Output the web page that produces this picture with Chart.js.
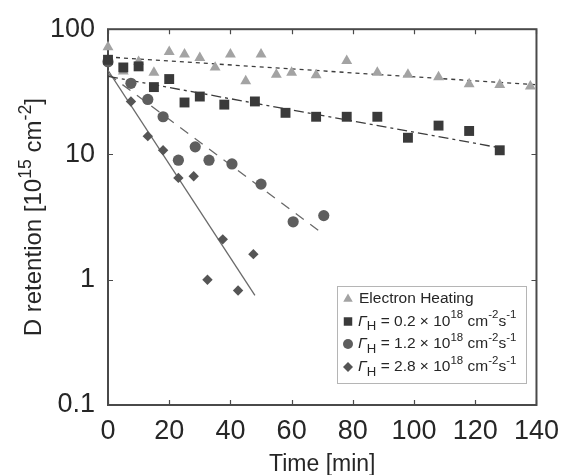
<!DOCTYPE html>
<html>
<head>
<meta charset="utf-8">
<script src="https://cdn.jsdelivr.net/npm/chart.js"></script>
<style>
  html, body { margin: 0; padding: 0; background: #fff; }
</style>
</head>
<body>
<canvas id="chart" width="569" height="475"></canvas>
<script>
// time [min] and D retention [1e15 cm^-2]
let heatTime = [0, 5, 10, 15, 20, 25, 30, 35, 40, 45, 50, 55, 60, 68, 78, 88, 98, 108, 118, 128, 138];
let heatVals = [72, 46, 55, 45, 66, 63, 59, 49.5, 63, 38.5, 63, 43.5, 45, 43, 56, 45, 43.5, 41.5, 36.5, 36, 35];

let lowTime = [0, 5, 10, 15, 20, 25, 30, 38, 48, 58, 68, 78, 88, 98, 108, 118, 128];
let lowVals = [57, 49.5, 50.5, 34.5, 40, 26, 29, 25, 26.5, 21.5, 20, 20, 20, 13.6, 17, 15.4, 10.8];

let midTime = [0, 7.5, 13, 18, 23, 28.5, 33, 40.5, 50, 60.5, 70.5];
let midVals = [55, 37, 27.5, 20, 9, 11.5, 9, 8.4, 5.8, 2.9, 3.25];

let highTime = [0, 7.5, 13, 18, 23, 28, 32.5, 37.5, 42.5, 47.5];
let highVals = [54, 26.5, 14, 10.8, 6.5, 6.7, 1.0, 2.1, 0.82, 1.6];

// fitted lines, start and end
let heatFitTime = [0, 140];
let heatFitVals = [60, 36];
let lowFitTime = [0, 128];
let lowFitVals = [42, 11.3];
let midFitTime = [0, 70];
let midFitVals = [44, 2.35];
let highFitTime = [0, 48];
let highFitVals = [47, 0.75];

let xTicks = [0, 20, 40, 60, 80, 100, 120, 140];
let yTicks = [0.1, 1, 10, 100];
let yTickLabels = ["0.1", "1", "10", "100"];
let fluxLabels = ["0.2", "1.2", "2.8"];

const FONT = '"Liberation Sans", Arial, sans-serif';

function pts(xs, ys) {
  return xs.map((x, i) => ({ x: x, y: ys[i] }));
}

function richText(ctx, x, y, parts, size) {
  for (const p of parts) {
    let fs = size, dy = 0;
    if (p.sup) { fs = size * 0.74; dy = -size * 0.4; }
    if (p.sub) { fs = size * 0.85; dy = size * 0.32; }
    ctx.font = (p.it ? "italic " : "") + fs + "px " + FONT;
    ctx.fillText(p.t, x, y + dy);
    x += ctx.measureText(p.t).width;
  }
  return x;
}

function richWidth(ctx, parts, size) {
  let w = 0;
  for (const p of parts) {
    let fs = p.sup ? size * 0.74 : p.sub ? size * 0.85 : size;
    ctx.font = (p.it ? "italic " : "") + fs + "px " + FONT;
    w += ctx.measureText(p.t).width;
  }
  return w;
}

function fluxParts(f) {
  return [
    { t: "\u0393", it: true },
    { t: "H", sub: true },
    { t: " = " + f + " \u00d7 10" },
    { t: "18", sup: true },
    { t: " cm" },
    { t: "-2", sup: true },
    { t: "s" },
    { t: "-1", sup: true },
  ];
}

// box, inward ticks and axis titles, under the markers
const framePlugin = {
  id: "frame",
  beforeDatasetsDraw(chart) {
    const ctx = chart.ctx;
    const a = chart.chartArea;
    const xs = chart.scales.x, ys = chart.scales.y;
    ctx.save();
    ctx.strokeStyle = "#4a4a4a";
    ctx.lineWidth = 2;
    ctx.strokeRect(a.left, a.top, a.right - a.left, a.bottom - a.top);
    ctx.lineWidth = 1.2;
    ctx.beginPath();
    xTicks.forEach((t) => {
      let px = Math.round(xs.getPixelForValue(t)) + 0.5;
      ctx.moveTo(px, a.bottom); ctx.lineTo(px, a.bottom - 5);
      ctx.moveTo(px, a.top); ctx.lineTo(px, a.top + 5);
    });
    yTicks.forEach((t) => {
      let py = Math.round(ys.getPixelForValue(t)) + 0.5;
      ctx.moveTo(a.left, py); ctx.lineTo(a.left + 5, py);
      ctx.moveTo(a.right, py); ctx.lineTo(a.right - 5, py);
    });
    ctx.stroke();

    ctx.fillStyle = "#262626";
    ctx.textBaseline = "alphabetic";
    // x title
    ctx.font = "23px " + FONT;
    ctx.textAlign = "center";
    ctx.fillText("Time [min]", (a.left + a.right) / 2, 471);
    // y title
    ctx.textAlign = "left";
    let yParts = [{ t: "D retention [10" }, { t: "15", sup: true }, { t: " cm" }, { t: "-2", sup: true }, { t: "]" }];
    let w = richWidth(ctx, yParts, 24);
    ctx.translate(41, (a.top + a.bottom) / 2);
    ctx.rotate(-Math.PI / 2);
    richText(ctx, -w / 2, 0, yParts, 24);
    ctx.restore();
  },
  afterDatasetsDraw(chart) {
    const ctx = chart.ctx;
    const helpers = Chart.helpers;
    ctx.save();
    ctx.fillStyle = "#fff";
    ctx.fillRect(337, 286, 189, 97);
    ctx.strokeStyle = "#b5b5b5";
    ctx.lineWidth = 1;
    ctx.strokeRect(337.5, 286.5, 189, 97);

    let rows = [299, 321.5, 344, 367];
    let marks = [
      { style: "triangle", r: 5.5, color: "#a3a3a3" },
      { style: "rect", r: 6, color: "#3a3a3a" },
      { style: "circle", r: 5, color: "#5e5e5e" },
      { style: "rectRot", r: 5, color: "#555555" },
    ];
    marks.forEach((m, i) => {
      ctx.fillStyle = m.color;
      helpers.drawPoint(ctx, { pointStyle: m.style, radius: m.r, rotation: 0, borderWidth: 0 }, 348, rows[i]);
    });

    ctx.fillStyle = "#262626";
    ctx.textBaseline = "middle";
    ctx.textAlign = "left";
    ctx.font = "15.5px " + FONT;
    ctx.fillText("Electron Heating", 359, rows[0]);
    fluxLabels.forEach((f, i) => {
      richText(ctx, 358, rows[i + 1], fluxParts(f), 15.5);
    });
    ctx.restore();
  },
};

function lineSet(xs, ys, color, dash, order) {
  return {
    data: pts(xs, ys),
    showLine: true,
    borderColor: color,
    borderWidth: 1.3,
    borderDash: dash,
    pointRadius: 0,
    fill: false,
    order: order,
  };
}

function pointSet(xs, ys, style, r, color, order) {
  return {
    data: pts(xs, ys),
    showLine: false,
    pointStyle: style,
    pointRadius: r,
    backgroundColor: color,
    borderColor: color,
    borderWidth: 0,
    clip: false,
    order: order,
  };
}

new Chart(document.getElementById("chart"), {
  type: "scatter",
  data: {
    datasets: [
      lineSet(heatFitTime, heatFitVals, "#3c3c3c", [4, 4], 20),
      lineSet(lowFitTime, lowFitVals, "#3c3c3c", [10, 4, 3, 4], 20),
      lineSet(midFitTime, midFitVals, "#6a6a6a", [10, 8], 20),
      lineSet(highFitTime, highFitVals, "#6a6a6a", [], 20),
      pointSet(heatTime, heatVals, "triangle", 6.3, "#a3a3a3", 9),
      pointSet(highTime, highVals, "rectRot", 5.2, "#555555", 8),
      pointSet(midTime, midVals, "circle", 5.6, "#5e5e5e", 7),
      pointSet(lowTime, lowVals, "rect", 7, "#3a3a3a", 6),
    ],
  },
  options: {
    responsive: false,
    animation: false,
    layout: { padding: { left: 0, right: 27, top: 24, bottom: 0 } },
    plugins: {
      legend: { display: false },
      tooltip: { enabled: false },
    },
    scales: {
      x: {
        type: "linear",
        min: 0,
        max: 140,
        afterBuildTicks: (scale) => {
          scale.ticks = xTicks.map((v) => ({ value: v }));
        },
        afterFit: (scale) => {
          scale.height = 70;
        },
        grid: { display: false, drawTicks: false, tickLength: 0 },
        border: { display: false },
        ticks: {
          padding: 10,
          maxRotation: 0,
          color: "#262626",
          font: { family: FONT, size: 27 },
        },
      },
      y: {
        type: "logarithmic",
        min: 0.1,
        max: 100,
        afterBuildTicks: (scale) => {
          scale.ticks = yTicks.map((v) => ({ value: v }));
        },
        afterFit: (scale) => {
          scale.width = 108;
        },
        grid: { display: false, drawTicks: false, tickLength: 0 },
        border: { display: false },
        ticks: {
          padding: 13,
          color: "#262626",
          font: { family: FONT, size: 27 },
          callback: (value, index) => yTickLabels[index],
        },
      },
    },
  },
  plugins: [framePlugin],
});
</script>
</body>
</html>
